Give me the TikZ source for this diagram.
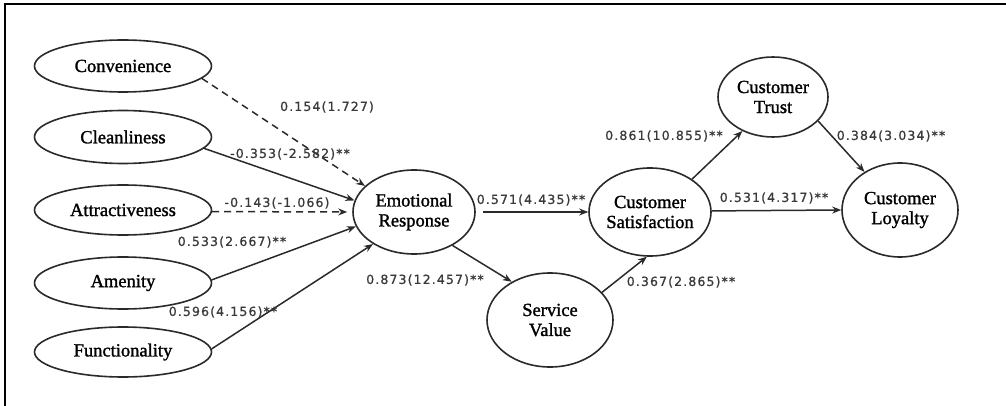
\documentclass[tikz,border=0pt]{standalone}
\usepackage{fontspec}
\setmainfont{Liberation Serif}[FakeBold=1.2]
\newfontfamily\nodefont[FakeBold=1.4]{Liberation Serif}
\newfontfamily\lblfont[LetterSpace=9,FakeBold=0.9]{DejaVu Sans}
\usetikzlibrary{shapes.geometric,arrows.meta}
\definecolor{ink}{HTML}{2A2A2A}
\definecolor{lblc}{HTML}{3A3A3A}
\begin{document}
\begin{tikzpicture}[x=1pt,y=-1pt,
  var/.style={ellipse,draw=ink,line width=1.6pt,inner sep=0pt,inner xsep=-6pt,
    font=\nodefont\fontsize{18.5}{20}\selectfont,text=black,align=center},
  lbl/.style={font=\lblfont\fontsize{12.5}{14}\selectfont,text=lblc,inner sep=0pt},
  arr/.style={draw=ink,line width=1.5pt,-{Stealth[length=9pt,width=7pt]}},
  darr/.style={arr,dash pattern=on 7pt off 5pt}]
\useasboundingbox (0,0) rectangle (1006,406);
\coordinate (fbl) at (5,406);
\coordinate (ftl) at (5,4);
\coordinate (ftr) at (1006,4);
\draw[line width=2.2pt,black] (fbl) -- (ftl) -- (ftr);

\node[var,minimum width=177pt,minimum height=52pt] (conv) at (123,66) {Convenience};
\node[var,minimum width=177pt,minimum height=53pt] (clean) at (123,137) {Cleanliness};
\node[var,minimum width=177pt,minimum height=50pt] (attr) at (123,210) {Attractiveness};
\node[var,minimum width=177pt,minimum height=52pt] (amen) at (123,283) {Amenity};
\node[var,minimum width=177pt,minimum height=50pt] (func) at (123,352) {Functionality};
\node[var,minimum width=122pt,minimum height=84pt] (er) at (414,212) {Emotional\\Response};
\node[var,minimum width=122pt,minimum height=88pt] (cs) at (650,212) {Customer\\Satisfaction};
\node[var,minimum width=110pt,minimum height=80pt] (ct) at (773,97) {Customer\\Trust};
\node[var,minimum width=116pt,minimum height=94pt] (cl) at (900,210) {Customer\\Loyalty};
\node[var,minimum width=126pt,minimum height=94pt] (sv) at (550,320) {Service\\Value};

\draw[darr] (conv.-9) -- (er.152);
\draw[arr] (clean.-8) -- (er.169);
\draw[darr,shorten >=5pt] (attr.-1) -- (er.180);
\draw[arr] (amen.2) -- (er.194);
\draw[arr] (func.2) -- (er.218);
\draw[arr,shorten <=7pt] (er.0) -- (cs.180);
\draw[arr] (er.-41) -- (sv.135);
\draw[arr] (sv.28) -- (cs.-94);
\draw[arr] (cs.38) -- (ct.228);
\draw[arr] (ct.-28) -- (cl.133);
\draw[arr] (cs.1) -- (cl.180);

\node[lbl] (l1) at (327,107) {0.154(1.727)};
\node[lbl] (l2) at (290,154) {-0.353(-2.582)**};
\node[lbl] (l3) at (277,203) {-0.143(-1.066)};
\node[lbl] (l4) at (232,242) {0.533(2.667)**};
\node[lbl] (l5) at (223,312) {0.596(4.156)**};
\node[lbl] (l6) at (425,280) {0.873(12.457)**};
\node[lbl] (l7) at (531,200) {0.571(4.435)**};
\node[lbl] (l8) at (681,282) {0.367(2.865)**};
\node[lbl] (l9) at (664,136) {0.861(10.855)**};
\node[lbl] (l10) at (891,136) {0.384(3.034)**};
\node[lbl] (l11) at (774,198) {0.531(4.317)**};
\end{tikzpicture}
\end{document}
